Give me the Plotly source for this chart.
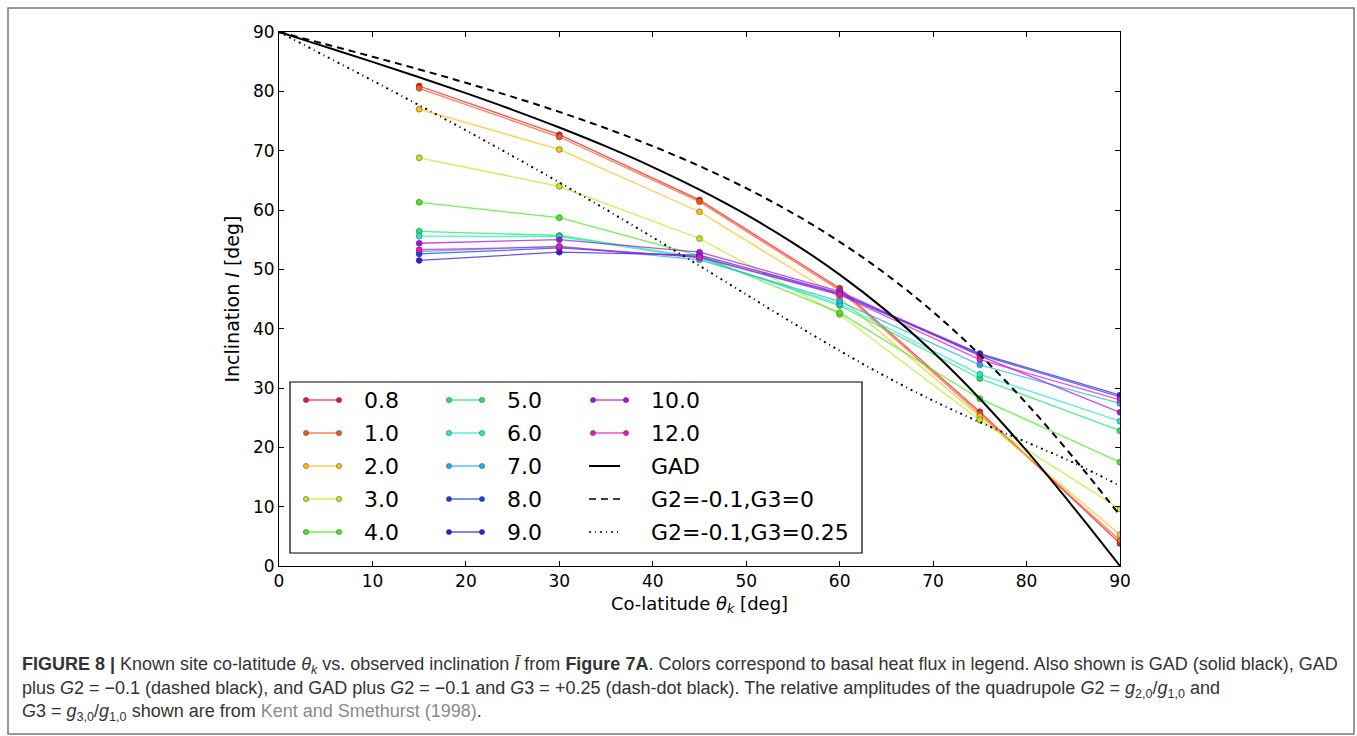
import plotly.graph_objects as go

W, H = 1357, 736
PL, PR, PT, PB = 279, 1120, 32, 566  # plot area in pixels

# ---------------- data ----------------
colat = [15, 30, 45, 60, 75, 90]
flux_labels = ["0.8", "1.0", "2.0", "3.0", "4.0", "5.0", "6.0", "7.0", "8.0", "9.0", "10.0", "12.0"]
flux_colors = ["#f5102a", "#ff5512", "#ffbf10", "#b4f010", "#40f018", "#10f060",
               "#18f0cc", "#18b4f0", "#1040ee", "#4010e6", "#a810ee", "#f010c8"]
incl = {
    "0.8":  [80.9, 72.7, 61.7, 46.8, 26.0, 3.8],
    "1.0":  [80.5, 72.3, 61.4, 46.5, 25.6, 4.3],
    "2.0":  [77.0, 70.2, 59.7, 45.2, 25.2, 5.3],
    "3.0":  [68.8, 64.0, 55.2, 42.4, 24.6, 9.6],
    "4.0":  [61.3, 58.7, 52.3, 42.7, 28.2, 17.5],
    "5.0":  [56.4, 55.7, 52.0, 43.9, 31.6, 22.8],
    "6.0":  [55.6, 55.5, 51.8, 44.2, 32.3, 24.4],
    "7.0":  [53.0, 53.9, 51.6, 44.6, 33.9, 27.4],
    "8.0":  [52.6, 53.6, 52.1, 45.8, 35.6, 28.5],
    "9.0":  [51.5, 52.9, 52.4, 46.0, 35.8, 28.8],
    "10.0": [54.4, 55.0, 52.9, 46.3, 35.4, 25.9],
    "12.0": [53.3, 53.8, 52.0, 45.7, 34.8, 28.0],
}

curve_colat = [0, 5, 10, 15, 20, 25, 30, 35, 40, 45, 50, 55, 60, 65, 70, 75, 80, 85, 90]
gad = [90, 87.5, 84.96, 82.37, 79.69, 76.88, 73.9, 70.71, 67.24, 63.43, 59.21, 54.47,
       49.11, 43.0, 36.05, 28.19, 19.43, 9.93, 0.0]
g2_only = [90, 87.94, 85.84, 83.69, 81.44, 79.07, 76.53, 73.77, 70.75, 67.41, 63.67, 59.45,
           54.64, 49.14, 42.82, 35.59, 27.39, 18.3, 8.53]
g2_g3 = [90, 85.92, 81.82, 77.66, 73.43, 69.09, 64.65, 60.08, 55.39, 50.6, 45.76, 40.95,
         36.28, 31.88, 27.86, 24.24, 20.87, 17.43, 13.5]
model_labels = ["GAD", "G2=-0.1,G3=0", "G2=-0.1,G3=0.25"]
model_dash = ["solid", "7px,5px", "2px,4px,1px,4px"]

x_ticks = [0, 10, 20, 30, 40, 50, 60, 70, 80, 90]
y_ticks = [0, 10, 20, 30, 40, 50, 60, 70, 80, 90]


def rgba(hexc, a):
    h = hexc.lstrip("#")
    return "rgba(%d,%d,%d,%g)" % (int(h[0:2], 16), int(h[2:4], 16), int(h[4:6], 16), a)


def px(x):
    return (x - PL) / (PR - PL)


def py(y):
    return (PB - y) / (PB - PT)


fig = go.Figure()

for lab, col in zip(flux_labels, flux_colors):
    fig.add_trace(go.Scatter(
        x=colat, y=incl[lab], mode="lines+markers", name=lab,
        line=dict(color=rgba(col, 0.75), width=1.3),
        marker=dict(size=6, color=col, line=dict(color="rgba(60,60,60,0.8)", width=0.6)),
        showlegend=False))

for lab, yy, dash in zip(model_labels, [gad, g2_only, g2_g3], model_dash):
    fig.add_trace(go.Scatter(
        x=curve_colat, y=yy, mode="lines", name=lab, line_shape="spline",
        line=dict(color="black", width=2, dash=dash), showlegend=False))

shapes = []
annotations = []

# outer frame of the figure panel
shapes.append(dict(type="rect", xref="paper", yref="paper",
                   x0=px(8), x1=px(1354), y0=py(734), y1=py(8),
                   line=dict(color="#777777", width=1.5), layer="below"))

# manual legend
shapes.append(dict(type="rect", xref="paper", yref="paper",
                   x0=px(290), x1=px(862), y0=py(553), y1=py(382),
                   line=dict(color="black", width=1.2), fillcolor="white", layer="above"))
row_y = [400, 433, 466, 499, 532]
cols = [(306, 339, 362), (449, 482, 505), (593, 626, 649)]
entries = [(l, c, "marker") for l, c in zip(flux_labels, flux_colors)] + \
          [(l, "black", d) for l, d in zip(model_labels, model_dash)]
for i, (lab, col, kind) in enumerate(entries):
    c = i // 5
    r = i % 5
    x0, x1, xt = cols[c]
    yy = row_y[r]
    if kind == "marker":
        shapes.append(dict(type="line", xref="paper", yref="paper",
                           x0=px(x0), x1=px(x1), y0=py(yy), y1=py(yy),
                           line=dict(color=rgba(col, 0.75), width=1.3), layer="above"))
        for xm in (x0, x1):
            shapes.append(dict(type="circle", xref="paper", yref="paper",
                               xsizemode="pixel", ysizemode="pixel",
                               xanchor=px(xm), yanchor=py(yy),
                               x0=-2.6, x1=2.6, y0=-2.6, y1=2.6,
                               fillcolor=col, line=dict(color="rgba(60,60,60,0.8)", width=0.6),
                               layer="above"))
    else:
        shapes.append(dict(type="line", xref="paper", yref="paper",
                           x0=px(x0 - 4), x1=px(x1 - 6), y0=py(yy), y1=py(yy),
                           line=dict(color="black", width=1.6 if kind != "solid" else 2,
                                     dash=kind), layer="above"))
    annotations.append(dict(xref="paper", yref="paper", x=px(xt), y=py(yy),
                            text=lab, showarrow=False, xanchor="left", yanchor="middle",
                            font=dict(family="DejaVu Sans", size=22, color="black")))

# caption
cap_font = dict(family="Liberation Sans", size=18, color="#333333")
cap_lines = [
    "<b>FIGURE 8 |</b> Known site co-latitude <i>θ<sub>k</sub></i> vs. observed inclination <i>Ī</i> from "
    "<b>Figure 7A</b>. Colors correspond to basal heat flux in legend. Also shown is GAD (solid black), GAD",
    "plus <i>G</i>2 = −0.1 (dashed black), and GAD plus <i>G</i>2 = −0.1 and <i>G</i>3 = +0.25 "
    "(dash-dot black). The relative amplitudes of the quadrupole <i>G</i>2 = <i>g</i><sub>2,0</sub>/<i>g</i><sub>1,0</sub> and",
    "<i>G</i>3 = <i>g</i><sub>3,0</sub>/<i>g</i><sub>1,0</sub> shown are from "
    "<span style='color:#8a8a8a'>Kent and Smethurst (1998)</span>.",
]
for yy, t in zip([665, 689, 712], cap_lines):
    annotations.append(dict(xref="paper", yref="paper", x=px(20), y=py(yy), text=t,
                            showarrow=False, xanchor="left", yanchor="middle", font=cap_font))

axis_common = dict(showgrid=False, zeroline=False, showline=True, linecolor="black",
                   linewidth=1, mirror="allticks", ticks="inside", ticklen=5, tickwidth=1,
                   tickcolor="black", tickfont=dict(family="DejaVu Sans", size=17, color="black"))

fig.update_layout(
    width=W, height=H,
    margin=dict(l=PL, r=W - PR, t=PT, b=H - PB),
    paper_bgcolor="white", plot_bgcolor="white",
    xaxis=dict(range=[0, 90], tickvals=x_ticks, ticktext=[str(v) for v in x_ticks],
               title=dict(text="Co-latitude <i>θ<sub>k</sub></i> [deg]", standoff=6,
                          font=dict(family="DejaVu Sans", size=18, color="black")),
               **axis_common),
    yaxis=dict(range=[0, 90], tickvals=y_ticks, ticktext=[str(v) for v in y_ticks],
               title=dict(text="Inclination <i>I</i> [deg]", standoff=8,
                          font=dict(family="DejaVu Sans", size=19, color="black")),
               **axis_common),
    shapes=shapes, annotations=annotations,
)

fig.write_html("out.html")
